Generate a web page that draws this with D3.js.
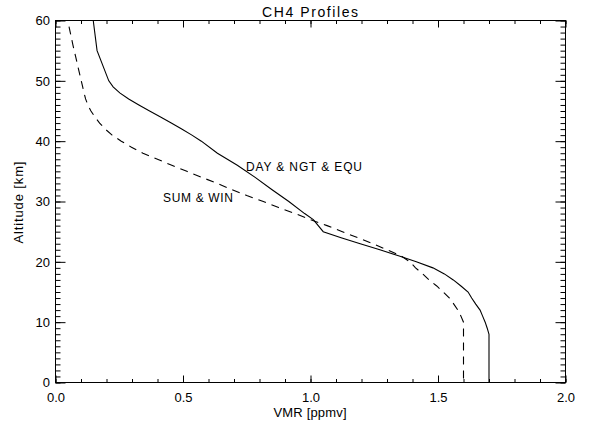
<!DOCTYPE html>
<html>
<head>
<meta charset="utf-8">
<script src="https://cdn.jsdelivr.net/npm/d3@7"></script>
<style>
  html, body { margin: 0; padding: 0; background: #fff; }
  svg text { font-family: "Liberation Sans", Arial, Helvetica, sans-serif; fill: #000; }
</style>
</head>
<body>
<svg id="chart" width="590" height="427"></svg>
<script>
// ---- data ----
const altSolid = [60, 55, 50, 49, 48, 47, 46, 45, 44, 43, 42, 41, 40, 38, 36, 34, 32, 30, 28, 27, 25, 24, 23, 22, 21, 20, 19, 18, 17, 16, 15, 14, 13, 12, 11, 10, 9, 8, 0];
const vmrSolid = [0.148, 0.163, 0.209, 0.226, 0.252, 0.287, 0.327, 0.369, 0.412, 0.454, 0.495, 0.535, 0.572, 0.635, 0.713, 0.783, 0.848, 0.915, 0.977, 1.011, 1.05, 1.12, 1.195, 1.272, 1.345, 1.415, 1.48, 1.525, 1.56, 1.59, 1.618, 1.632, 1.648, 1.665, 1.675, 1.685, 1.693, 1.70, 1.70];

const altDashed = [59, 58, 56, 54, 52, 50, 48, 47, 46, 45, 44, 43, 42, 41, 40, 39, 38, 37, 36, 35, 34, 33, 32, 31, 30, 29, 28, 27, 26, 25, 24, 23, 22, 21, 20, 19, 18, 17, 16, 15, 14, 13, 12, 11, 10, 0];
const vmrDashed = [0.053, 0.058, 0.068, 0.079, 0.09, 0.101, 0.112, 0.118, 0.127, 0.139, 0.155, 0.173, 0.195, 0.222, 0.258, 0.298, 0.343, 0.400, 0.456, 0.515, 0.574, 0.634, 0.69, 0.75, 0.815, 0.875, 0.94, 1.0, 1.065, 1.125, 1.185, 1.245, 1.30, 1.355, 1.39, 1.412, 1.44, 1.465, 1.495, 1.52, 1.545, 1.562, 1.578, 1.59, 1.60, 1.60];

const xMajorTicks = [0.0, 0.5, 1.0, 1.5, 2.0];
const xTickLabels = ["0.0", "0.5", "1.0", "1.5", "2.0"];
const yMajorTicks = [0, 10, 20, 30, 40, 50, 60];
const yTickLabels = ["0", "10", "20", "30", "40", "50", "60"];
const xMinorTicks = d3.range(0, 21).map(i => i / 10);
const yMinorTicks = d3.range(0, 61);

const titleText = "CH4 Profiles";
const xTitle = "VMR [ppmv]";
const yTitle = "Altitude [km]";
const solidLabel = "DAY & NGT & EQU";
const dashedLabel = "SUM & WIN";

// ---- layout ----
const svg = d3.select("#chart");
const L = 55.5, R = 565.5, T = 20.5, B = 382.5;
const x = d3.scaleLinear().domain([0, 2]).range([L, R]);
const y = d3.scaleLinear().domain([0, 60]).range([B, T]);

const font = 13;

function styleAxis(g) {
  g.select(".domain").remove();
  g.selectAll(".tick line").attr("stroke", "#000").attr("stroke-width", 1);
}
// minor ticks
svg.append("g").attr("transform", `translate(0,${B})`)
  .call(d3.axisBottom(x).tickValues(xMinorTicks).tickSizeInner(-3.5).tickSizeOuter(0).tickFormat(""))
  .call(styleAxis);
svg.append("g").attr("transform", `translate(0,${T})`)
  .call(d3.axisTop(x).tickValues(xMinorTicks).tickSizeInner(-3.5).tickSizeOuter(0).tickFormat(""))
  .call(styleAxis);
svg.append("g").attr("transform", `translate(${L},0)`)
  .call(d3.axisLeft(y).tickValues(yMinorTicks).tickSizeInner(-5).tickSizeOuter(0).tickFormat(""))
  .call(styleAxis);
svg.append("g").attr("transform", `translate(${R},0)`)
  .call(d3.axisRight(y).tickValues(yMinorTicks).tickSizeInner(-5).tickSizeOuter(0).tickFormat(""))
  .call(styleAxis);

// major ticks with labels
const gxB = svg.append("g").attr("transform", `translate(0,${B})`)
  .call(d3.axisBottom(x).tickValues(xMajorTicks).tickSizeInner(-7).tickSizeOuter(0).tickPadding(10.5)
    .tickFormat((d, i) => xTickLabels[i]))
  .call(styleAxis);
gxB.selectAll("text").attr("font-size", font).attr("font-family", null);
svg.append("g").attr("transform", `translate(0,${T})`)
  .call(d3.axisTop(x).tickValues(xMajorTicks).tickSizeInner(-7).tickSizeOuter(0).tickFormat(""))
  .call(styleAxis);
const gyL = svg.append("g").attr("transform", `translate(${L},0)`)
  .call(d3.axisLeft(y).tickValues(yMajorTicks).tickSizeInner(-10).tickSizeOuter(0).tickPadding(5.5)
    .tickFormat((d, i) => yTickLabels[i]))
  .call(styleAxis);
gyL.selectAll("text").attr("font-size", font).attr("font-family", null);
svg.append("g").attr("transform", `translate(${R},0)`)
  .call(d3.axisRight(y).tickValues(yMajorTicks).tickSizeInner(-10).tickSizeOuter(0).tickFormat(""))
  .call(styleAxis);

// frame
svg.append("rect").attr("x", L).attr("y", T).attr("width", R - L).attr("height", B - T)
  .attr("fill", "none").attr("stroke", "#000").attr("stroke-width", 1);

// lines
const line = d3.line().x(d => x(d[0])).y(d => y(d[1]));
const solidData = altSolid.map((a, i) => [vmrSolid[i], a]);
const dashedData = altDashed.map((a, i) => [vmrDashed[i], a]);

svg.append("path").datum(solidData).attr("d", line)
  .attr("fill", "none").attr("stroke", "#000").attr("stroke-width", 1.1);
svg.append("path").datum(dashedData).attr("d", line)
  .attr("fill", "none").attr("stroke", "#000").attr("stroke-width", 1.1)
  .attr("stroke-dasharray", "8,6");

// texts
svg.append("text").attr("x", 310).attr("y", 17).attr("text-anchor", "middle")
  .attr("font-size", 14).attr("textLength", 96).attr("lengthAdjust", "spacing").text(titleText);
svg.append("text").attr("x", 310).attr("y", 417).attr("text-anchor", "middle")
  .attr("font-size", 13).attr("textLength", 73).attr("lengthAdjust", "spacing").text(xTitle);
svg.append("text").attr("transform", "translate(23,202.5) rotate(-90)").attr("text-anchor", "middle")
  .attr("font-size", 13).attr("textLength", 82).attr("lengthAdjust", "spacing").text(yTitle);
svg.append("text").attr("x", 246).attr("y", 171).attr("font-size", 12)
  .attr("textLength", 116).attr("lengthAdjust", "spacing").text(solidLabel);
svg.append("text").attr("x", 163).attr("y", 202).attr("font-size", 12)
  .attr("textLength", 70).attr("lengthAdjust", "spacing").text(dashedLabel);
</script>
</body>
</html>
